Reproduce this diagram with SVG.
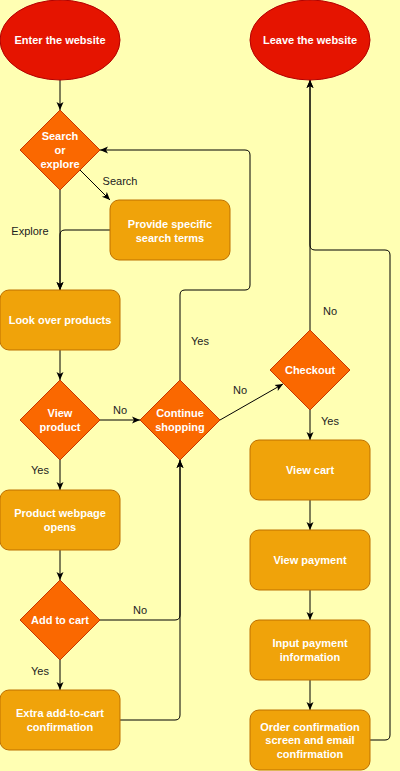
<svg xmlns="http://www.w3.org/2000/svg" width="400" height="771" viewBox="0 0 400 771">
<style>
.bg{fill:#FFFFB3}
.term{fill:#E51400;stroke:#B20000;stroke-width:1}
.dec{fill:#FA6800;stroke:#C73500;stroke-width:1}
.proc{fill:#F0A30A;stroke:#BD7000;stroke-width:1}
.nt{font-family:"Liberation Sans",Arial,sans-serif;font-size:11px;font-weight:bold;fill:#FFFFFF;text-anchor:middle}
.lbl{font-family:"Liberation Sans",Arial,sans-serif;font-size:11px;fill:#222222;text-anchor:middle}
.edge{fill:none;stroke:#000000;stroke-width:1}
</style>
<defs>
<marker id="arr" markerWidth="10" markerHeight="10" refX="8" refY="4" orient="auto" markerUnits="userSpaceOnUse">
<path d="M0,0.5 L8,4 L0,7.5 L2,4 Z" fill="#000000"/>
</marker>
</defs>
<rect class="bg" x="0" y="0" width="400" height="771"/>

<g id="connectors">
<path class="edge" d="M60,80 L60,110" marker-end="url(#arr)"/>
<path class="edge" d="M80,170 L110,200" marker-end="url(#arr)"/>
<path class="edge" d="M60,190 L60,290" marker-end="url(#arr)"/>
<path class="edge" d="M110,230 L65,230 Q60,230 60,235 L60,290" marker-end="url(#arr)"/>
<path class="edge" d="M60,350 L60,380" marker-end="url(#arr)"/>
<path class="edge" d="M100,420 L140,420" marker-end="url(#arr)"/>
<path class="edge" d="M60,460 L60,490" marker-end="url(#arr)"/>
<path class="edge" d="M180,380 L180,295 Q180,290 185,290 L245,290 Q250,290 250,285 L250,155 Q250,150 245,150 L100,150" marker-end="url(#arr)"/>
<path class="edge" d="M220,420 L283,384" marker-end="url(#arr)"/>
<path class="edge" d="M310,330 L310,80" marker-end="url(#arr)"/>
<path class="edge" d="M310,410 L310,440" marker-end="url(#arr)"/>
<path class="edge" d="M310,500 L310,530" marker-end="url(#arr)"/>
<path class="edge" d="M310,590 L310,620" marker-end="url(#arr)"/>
<path class="edge" d="M310,680 L310,710" marker-end="url(#arr)"/>
<path class="edge" d="M370,740 L385,740 Q390,740 390,735 L390,255 Q390,250 385,250 L315,250 Q310,250 310,245 L310,80" marker-end="url(#arr)"/>
<path class="edge" d="M60,550 L60,580" marker-end="url(#arr)"/>
<path class="edge" d="M60,660 L60,690" marker-end="url(#arr)"/>
<path class="edge" d="M100,620 L175,620 Q180,620 180,615 L180,460" marker-end="url(#arr)"/>
<path class="edge" d="M120,720 L175,720 Q180,720 180,715 L180,460" marker-end="url(#arr)"/>
<text class="lbl" x="120" y="185">Search</text>
<text class="lbl" x="30" y="235">Explore</text>
<text class="lbl" x="120" y="414">No</text>
<text class="lbl" x="200" y="345">Yes</text>
<text class="lbl" x="240" y="394">No</text>
<text class="lbl" x="40" y="474">Yes</text>
<text class="lbl" x="330" y="315">No</text>
<text class="lbl" x="330" y="425">Yes</text>
<text class="lbl" x="140" y="614">No</text>
<text class="lbl" x="40" y="675">Yes</text>
</g>

<g id="enter">
<ellipse class="term" cx="60" cy="40" rx="60" ry="40"/>
<text class="nt" x="60" y="44">Enter the website</text>
</g>
<g id="leave">
<ellipse class="term" cx="310" cy="40" rx="60" ry="40"/>
<text class="nt" x="310" y="44">Leave the website</text>
</g>
<g id="search-or-explore">
<polygon class="dec" points="60,110 100,150 60,190 20,150"/>
<text class="nt" x="60" y="140">Search</text>
<text class="nt" x="60" y="154">or</text>
<text class="nt" x="60" y="168">explore</text>
</g>
<g id="provide-terms">
<rect class="proc" x="110" y="200" width="120" height="60" rx="9"/>
<text class="nt" x="170" y="227.5">Provide specific</text>
<text class="nt" x="170" y="241.5">search terms</text>
</g>
<g id="look-over">
<rect class="proc" x="0" y="290" width="120" height="60" rx="9"/>
<text class="nt" x="60" y="324">Look over products</text>
</g>
<g id="view-product">
<polygon class="dec" points="60,380 100,420 60,460 20,420"/>
<text class="nt" x="60" y="417">View</text>
<text class="nt" x="60" y="431">product</text>
</g>
<g id="continue-shopping">
<polygon class="dec" points="180,380 220,420 180,460 140,420"/>
<text class="nt" x="180" y="417">Continue</text>
<text class="nt" x="180" y="431">shopping</text>
</g>
<g id="checkout">
<polygon class="dec" points="310,330 350,370 310,410 270,370"/>
<text class="nt" x="310" y="374">Checkout</text>
</g>
<g id="product-page">
<rect class="proc" x="0" y="490" width="120" height="60" rx="9"/>
<text class="nt" x="60" y="517">Product webpage</text>
<text class="nt" x="60" y="531">opens</text>
</g>
<g id="add-to-cart">
<polygon class="dec" points="60,580 100,620 60,660 20,620"/>
<text class="nt" x="60" y="624">Add to cart</text>
</g>
<g id="extra-confirmation">
<rect class="proc" x="0" y="690" width="120" height="60" rx="9"/>
<text class="nt" x="60" y="717">Extra add-to-cart</text>
<text class="nt" x="60" y="731">confirmation</text>
</g>
<g id="view-cart">
<rect class="proc" x="250" y="440" width="120" height="60" rx="9"/>
<text class="nt" x="310" y="474">View cart</text>
</g>
<g id="view-payment">
<rect class="proc" x="250" y="530" width="120" height="60" rx="9"/>
<text class="nt" x="310" y="564">View payment</text>
</g>
<g id="input-payment">
<rect class="proc" x="250" y="620" width="120" height="60" rx="9"/>
<text class="nt" x="310" y="647">Input payment</text>
<text class="nt" x="310" y="661">information</text>
</g>
<g id="order-confirmation">
<rect class="proc" x="250" y="710" width="120" height="60" rx="9"/>
<text class="nt" x="310" y="730.5">Order confirmation</text>
<text class="nt" x="310" y="744">screen and email</text>
<text class="nt" x="310" y="757.5">confirmation</text>
</g>
</svg>
